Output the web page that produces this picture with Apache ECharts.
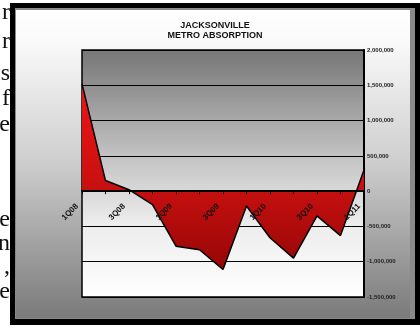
<!DOCTYPE html>
<html><head><meta charset="utf-8">
<script src="https://cdn.jsdelivr.net/npm/echarts@6/dist/echarts.min.js"></script>
<style>html,body{margin:0;padding:0;background:#fff}#c{width:420px;height:329px}</style>
</head><body><div id="c"></div>
<script>
// ---- data ----
const categories = ['1Q08','2Q08','3Q08','4Q08','1Q09','2Q09','3Q09','4Q09','1Q10','2Q10','3Q10','4Q10','1Q11'];
const absorption = [1520000, 150000, 20000, -190000, -780000, -830000, -1110000, -210000, -660000, -950000, -350000, -630000, 300000];
const yMin = -1500000, yMax = 2000000, yInterval = 500000;
const titleLines = ['JACKSONVILLE', 'METRO ABSORPTION'];
const marginChars = ['r', 'r', 's', 'f', 'e', 'e', 'n', ',', 'e'];

// ---- layout ----
const W = 420, H = 329;
const gridTop = 50, gridBottom = 32, gridLeft = 82, gridRight = 56;
const plotH = H - gridTop - gridBottom;
// move the category axis up to the value-axis zero line
const zeroOffset = -plotH * (0 - yMin) / (yMax - yMin);
const marginBaselines = [21, 50, 82, 107, 133, 228, 252, 275, 300];
const G = echarts.graphic;
const chart = echarts.init(document.getElementById('c'), null, {renderer: 'canvas'});

const graphics = [];
marginChars.forEach((ch, i) => {
  graphics.push({type: 'text', z: -20, x: 10, y: marginBaselines[i] - 8,
    style: {text: ch, font: '24px "Liberation Serif"', fill: '#111', textAlign: 'right', textVerticalAlign: 'middle'}});
});
graphics.push(
  {type: 'rect', z: -10, shape: {x: 10, y: 3, width: 410, height: 322}, style: {fill: '#000'}},
  {type: 'rect', z: -9, shape: {x: 15, y: 8, width: 400, height: 311}, style: {fill: '#8a8a8a'}},
  {type: 'rect', z: -8, shape: {x: 16, y: 10, width: 394, height: 308},
    style: {fill: new G.LinearGradient(0, 0, 0, 1, [
      {offset: 0, color: '#ffffff'}, {offset: 0.1, color: '#fafafa'},
      {offset: 0.5, color: '#cdcdcd'}, {offset: 1, color: '#7a7a7a'}])}},
  {type: 'text', z: 5, x: 215, y: 20,
    style: {text: titleLines.join('\n'), font: 'bold 9px "Liberation Sans", Arial', fill: '#111',
      textAlign: 'center', textVerticalAlign: 'top', lineHeight: 10.5}}
);

chart.setOption({
  animation: false,
  graphic: graphics,
  grid: {left: gridLeft, right: gridRight, top: gridTop, bottom: gridBottom, show: true,
    backgroundColor: new G.LinearGradient(0, 0, 0, 1, [
      {offset: 0, color: '#767676'}, {offset: 0.45, color: '#c6c6c6'},
      {offset: 0.7, color: '#ececec'}, {offset: 1, color: '#ffffff'}]),
    borderColor: '#000', borderWidth: 1.5},
  xAxis: {type: 'category', data: categories, boundaryGap: false, position: 'bottom', offset: zeroOffset, z: 6,
    axisLine: {onZero: false, lineStyle: {color: '#000', width: 2}},
    axisTick: {show: true, interval: 0, length: 3, lineStyle: {color: '#000', width: 1}},
    axisLabel: {interval: 1, rotate: 45, fontSize: 8, fontWeight: 'bold', color: '#111',
      fontFamily: '"Liberation Sans", Arial', margin: 9, padding: [0, 7, 0, 0]},
    splitLine: {show: false}},
  yAxis: {type: 'value', position: 'right', min: yMin, max: yMax, interval: yInterval,
    axisLine: {show: true, lineStyle: {color: '#000', width: 2}},
    axisTick: {show: false},
    axisLabel: {fontSize: 6, fontWeight: 'bold', color: '#222', fontFamily: '"Liberation Sans", Arial', margin: 3,
      formatter: v => v.toLocaleString('en-US')},
    splitLine: {show: true, lineStyle: {color: '#000', width: 1}}},
  series: [{type: 'line', data: absorption, symbol: 'none', z: 3,
    lineStyle: {color: '#000', width: 1.5},
    areaStyle: {opacity: 1, color: new G.LinearGradient(0, 0, 0, 1, [
      {offset: 0, color: '#f01414'}, {offset: 0.55, color: '#c81010'}, {offset: 1, color: '#960606'}])}}]
});
</script></body></html>
